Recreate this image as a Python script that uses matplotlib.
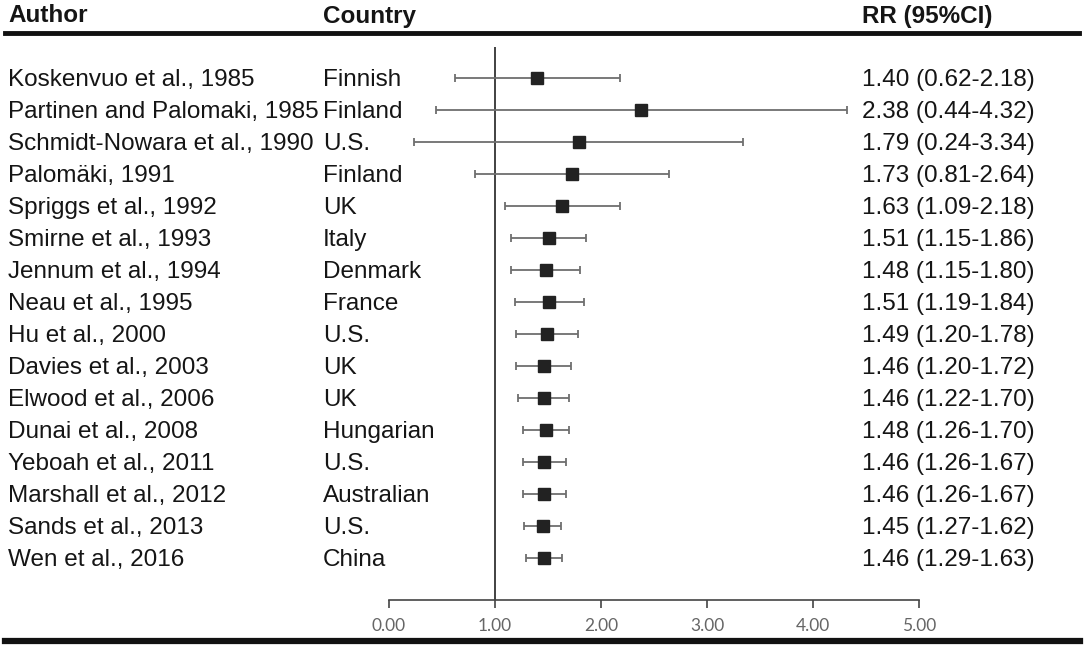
import matplotlib
matplotlib.use("Agg")
import matplotlib.pyplot as plt
import matplotlib.transforms as mtransforms
from matplotlib.lines import Line2D

authors = ["Koskenvuo et al., 1985", "Partinen and Palomaki, 1985", "Schmidt-Nowara et al., 1990",
           "Palomäki, 1991", "Spriggs et al., 1992", "Smirne et al., 1993", "Jennum et al., 1994",
           "Neau et al., 1995", "Hu et al., 2000", "Davies et al., 2003", "Elwood et al., 2006",
           "Dunai et al., 2008", "Yeboah et al., 2011", "Marshall et al., 2012", "Sands et al., 2013",
           "Wen et al., 2016"]
countries = ["Finnish", "Finland", "U.S.", "Finland", "UK", "Italy", "Denmark", "France", "U.S.",
             "UK", "UK", "Hungarian", "U.S.", "Australian", "U.S.", "China"]
rr = [1.40, 2.38, 1.79, 1.73, 1.63, 1.51, 1.48, 1.51, 1.49, 1.46, 1.46, 1.48, 1.46, 1.46, 1.45, 1.46]
lo = [0.62, 0.44, 0.24, 0.81, 1.09, 1.15, 1.15, 1.19, 1.20, 1.20, 1.22, 1.26, 1.26, 1.26, 1.27, 1.29]
hi = [2.18, 4.32, 3.34, 2.64, 2.18, 1.86, 1.80, 1.84, 1.78, 1.72, 1.70, 1.70, 1.67, 1.67, 1.62, 1.63]
xticks = [0, 1, 2, 3, 4, 5]

W, H = 1084, 648
fig = plt.figure(figsize=(W / 100, H / 100), dpi=100)
# axes: x=0 at px 389, x=5 at px 919; top at px 47, axis line at px 600
ax = fig.add_axes([389 / W, 48 / H, 530 / W, (600 - 47) / H])
ax.set_xlim(0, 5)
ax.set_ylim(16.31, -0.97)

ypos = list(range(len(authors)))
xerr = [[r - l for r, l in zip(rr, lo)], [h - r for r, h in zip(rr, hi)]]
ax.errorbar(rr, ypos, xerr=xerr, fmt="none", ecolor="#6e6e6e", elinewidth=1.3,
            capsize=3.2, capthick=1.3, zorder=2)
ax.plot(rr, ypos, "s", color="#222222", markersize=8.5, zorder=3)
ax.axvline(1, color="#333333", lw=1.3, zorder=1)

for s in ["top", "right", "left"]:
    ax.spines[s].set_visible(False)
ax.spines["bottom"].set_color("#444444")
ax.spines["bottom"].set_linewidth(1.2)
ax.set_yticks([])
ax.set_xticks(xticks)
ax.set_xticklabels(["%.2f" % t for t in xticks], fontfamily="Lato", fontsize=12.5, color="#666666")
ax.tick_params(axis="x", direction="out", length=6, width=1.2, color="#444444", pad=7)

# row labels: x in figure fraction, y in data rows (nudged down a touch)
trans = mtransforms.blended_transform_factory(fig.transFigure, ax.transData)
trans = trans + mtransforms.ScaledTranslation(0, -1.5 / 100, fig.dpi_scale_trans)
font = dict(family="Liberation Sans", fontsize=17.5, color="#151515", va="center")
for i in ypos:
    ax.text(8 / W, i, authors[i], transform=trans, **font)
    ax.text(323 / W, i, countries[i], transform=trans,
            bbox=dict(facecolor="white", edgecolor="none", pad=1), **font)
    ax.text(862 / W, i, "%.2f (%.2f-%.2f)" % (rr[i], lo[i], hi[i]), transform=trans, **font)

hfont = dict(family="Liberation Sans", fontsize=17.5, fontweight="bold", color="#151515", va="center")
fig.text(8 / W, 1 - 16 / H, "Author", **hfont)
fig.text(323 / W, 1 - 16 / H, "Country", **hfont)
fig.text(862 / W, 1 - 16 / H, "RR (95%CI)", **hfont)

fig.add_artist(Line2D([5 / W, 1079 / W], [1 - 33 / H, 1 - 33 / H], color="#111111", lw=3.5))
fig.add_artist(Line2D([5 / W, 1080 / W], [1 - 641 / H, 1 - 641 / H], color="#111111", lw=4.5))

fig.savefig("out.png", dpi=100)
